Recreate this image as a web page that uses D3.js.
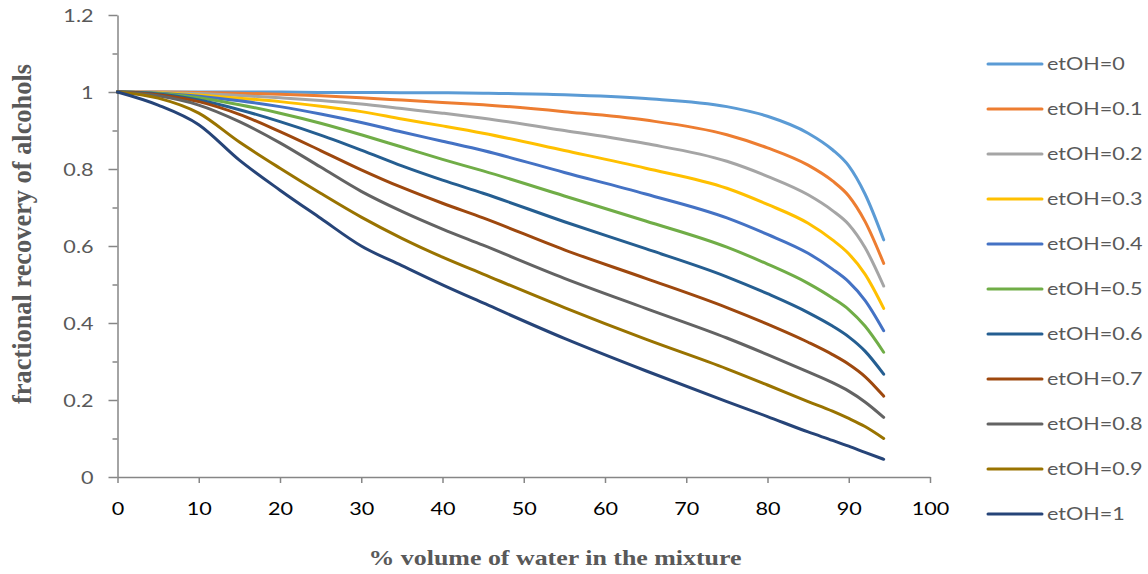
<!DOCTYPE html>
<html>
<head>
<meta charset="utf-8">
<script src="https://cdn.jsdelivr.net/npm/d3@7/dist/d3.min.js"></script>
<style>
  body { margin: 0; background: #fff; }
  svg { display: block; }
</style>
</head>
<body>
<div id="chart"></div>
<script>
// % volume of water in the mixture
const waterPct = [0, 5, 10, 15, 20, 25, 30, 35, 40, 45, 55, 65, 75, 80, 85, 88, 90, 92, 94.3]

// fractional recovery, one array per ethanol fraction
const etOH0  = [1, 1, 1, 1, 1, 0.999, 0.999, 0.998, 0.998, 0.997, 0.993, 0.983, 0.962, 0.937, 0.893, 0.850, 0.808, 0.735, 0.616]
const etOH01 = [1, 1, 0.999, 0.997, 0.994, 0.990, 0.985, 0.979, 0.973, 0.967, 0.949, 0.927, 0.889, 0.855, 0.810, 0.769, 0.730, 0.664, 0.555]
const etOH02 = [1, 0.999, 0.996, 0.991, 0.985, 0.978, 0.969, 0.957, 0.945, 0.932, 0.900, 0.866, 0.820, 0.781, 0.733, 0.692, 0.656, 0.596, 0.496]
const etOH03 = [1, 0.998, 0.992, 0.984, 0.975, 0.963, 0.949, 0.930, 0.912, 0.893, 0.848, 0.802, 0.750, 0.708, 0.659, 0.616, 0.580, 0.527, 0.438]
const etOH04 = [1, 0.997, 0.989, 0.977, 0.962, 0.943, 0.921, 0.896, 0.872, 0.848, 0.791, 0.735, 0.673, 0.630, 0.581, 0.540, 0.507, 0.459, 0.380]
const etOH05 = [1, 0.996, 0.985, 0.967, 0.945, 0.919, 0.889, 0.857, 0.825, 0.795, 0.730, 0.665, 0.597, 0.553, 0.503, 0.465, 0.435, 0.392, 0.324]
const etOH06 = [1, 0.995, 0.979, 0.954, 0.923, 0.888, 0.849, 0.808, 0.771, 0.737, 0.663, 0.593, 0.520, 0.476, 0.427, 0.392, 0.364, 0.327, 0.267]
const etOH07 = [1, 0.993, 0.975, 0.942, 0.897, 0.848, 0.798, 0.752, 0.711, 0.673, 0.590, 0.516, 0.440, 0.397, 0.350, 0.318, 0.293, 0.261, 0.210]
const etOH08 = [1, 0.990, 0.966, 0.923, 0.868, 0.805, 0.742, 0.690, 0.644, 0.602, 0.516, 0.438, 0.361, 0.318, 0.273, 0.245, 0.223, 0.195, 0.155]
const etOH09 = [1, 0.984, 0.945, 0.870, 0.802, 0.737, 0.675, 0.620, 0.571, 0.527, 0.440, 0.358, 0.281, 0.239, 0.196, 0.171, 0.152, 0.131, 0.100]
const etOH1  = [1, 0.966, 0.915, 0.823, 0.745, 0.672, 0.600, 0.549, 0.499, 0.452, 0.360, 0.276, 0.196, 0.157, 0.117, 0.095, 0.080, 0.064, 0.046]

const seriesNames = ["etOH=0", "etOH=0.1", "etOH=0.2", "etOH=0.3", "etOH=0.4", "etOH=0.5",
                     "etOH=0.6", "etOH=0.7", "etOH=0.8", "etOH=0.9", "etOH=1"]
const seriesValues = [etOH0, etOH01, etOH02, etOH03, etOH04, etOH05, etOH06, etOH07, etOH08, etOH09, etOH1]

const xTicks = [0, 10, 20, 30, 40, 50, 60, 70, 80, 90, 100]
const yTicks = [0, 0.2, 0.4, 0.6, 0.8, 1, 1.2]
const yMinorTicks = [0.1, 0.3, 0.5, 0.7, 0.9, 1.1]

const colors = ["#5B9BD5", "#ED7D31", "#A5A5A5", "#FFC000", "#4472C4", "#70AD47",
                "#255E91", "#9E480E", "#636363", "#997300", "#264478"]

const W = 1148, H = 574
const stretch = 1.2   // the picture is a bit wider than tall, text too
const sans = "Lato, 'Open Sans', sans-serif"
const serif = "'Liberation Serif', 'DejaVu Serif', serif"

const svg = d3.select("#chart").append("svg")
    .attr("width", W)
    .attr("height", H)

const xScale = d3.scaleLinear().domain([0, 100]).range([117.5, 930])
const yScale = d3.scaleLinear().domain([0, 1.2]).range([477, 15])

// y axis
const yAxis = svg.append("g")
    .attr("transform", "translate(117.5,0)")
    .call(d3.axisLeft(yScale).tickValues(yTicks).tickSize(9).tickSizeOuter(0)
        .tickFormat(d => String(+d.toFixed(1))))
yAxis.select(".domain").attr("stroke", "#868686").attr("stroke-width", 1.5)
yAxis.selectAll(".tick line").attr("stroke", "#868686").attr("stroke-width", 1.5)
yAxis.selectAll(".tick text")
    .attr("x", -20)
    .attr("dy", "0.36em")
    .attr("transform", `scale(${stretch},1)`)
    .attr("fill", "#595959")
    .attr("font-family", sans)
    .attr("font-size", 18)

const yMinor = svg.append("g")
    .attr("transform", "translate(117.5,0)")
    .call(d3.axisLeft(yScale).tickValues(yMinorTicks).tickSize(5).tickFormat(""))
yMinor.select(".domain").remove()
yMinor.selectAll(".tick line").attr("stroke", "#868686").attr("stroke-width", 1.5)

// x axis
const xAxis = svg.append("g")
    .attr("transform", "translate(0,477)")
    .call(d3.axisBottom(xScale).tickValues(xTicks).tickSize(6).tickSizeOuter(0))
xAxis.select(".domain").attr("stroke", "#868686").attr("stroke-width", 1.5)
xAxis.selectAll(".tick line").attr("stroke", "#868686").attr("stroke-width", 1.5)
xAxis.selectAll(".tick text")
    .attr("y", 38)
    .attr("dy", 0)
    .attr("transform", `scale(${stretch},1)`)
    .attr("fill", "#000")
    .attr("font-family", sans)
    .attr("font-size", 18)

// curves
const line = d3.line()
    .x((d, i) => xScale(waterPct[i]))
    .y(d => yScale(d))
    .curve(d3.curveMonotoneX)

svg.append("g").selectAll("path").data(seriesValues).enter()
    .append("path")
    .attr("d", d => line(d))
    .attr("fill", "none")
    .attr("stroke", (d, i) => colors[i])
    .attr("stroke-width", 3)
    .attr("stroke-linecap", "round")

// axis titles
svg.append("text")
    .attr("x", 555)
    .attr("y", 565)
    .attr("text-anchor", "middle")
    .attr("textLength", 373)
    .attr("lengthAdjust", "spacingAndGlyphs")
    .attr("fill", "#595959")
    .attr("font-family", serif)
    .attr("font-weight", "bold")
    .attr("font-size", 22)
    .text("% volume of water in the mixture")

svg.append("text")
    .attr("transform", `translate(31,234) scale(${stretch},1) rotate(-90)`)
    .attr("text-anchor", "middle")
    .attr("textLength", 340)
    .attr("lengthAdjust", "spacingAndGlyphs")
    .attr("fill", "#595959")
    .attr("font-family", serif)
    .attr("font-weight", "bold")
    .attr("font-size", 22)
    .text("fractional recovery of alcohols")

// legend
const legend = svg.append("g")
const rows = legend.selectAll("g").data(seriesNames).enter()
    .append("g")
    .attr("transform", (d, i) => `translate(988,${64 + i * 45})`)
rows.append("line")
    .attr("x1", 0).attr("x2", 54)
    .attr("stroke", (d, i) => colors[i])
    .attr("stroke-width", 3)
    .attr("stroke-linecap", "round")
rows.append("text")
    .attr("x", 59 / stretch)
    .attr("dy", "0.36em")
    .attr("transform", `scale(${stretch},1)`)
    .attr("fill", "#595959")
    .attr("font-family", sans)
    .attr("font-size", 18)
    .text(d => d)
</script>
</body>
</html>
